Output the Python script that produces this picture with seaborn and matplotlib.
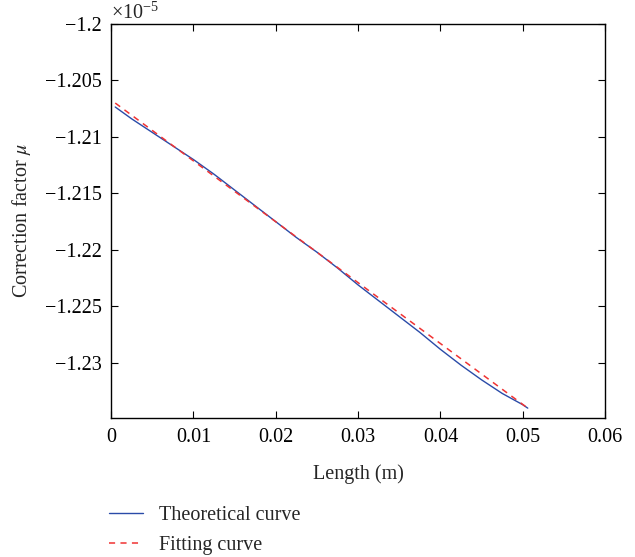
import pandas as pd
import matplotlib
matplotlib.use('Agg')
import matplotlib.pyplot as plt
import seaborn as sns
from matplotlib.ticker import FuncFormatter

# Theoretical curve, length in m, factor in units of 1e-5
length_theory = [0.0005, 0.0025, 0.005, 0.0075, 0.01, 0.0125, 0.015, 0.0175,
                 0.02, 0.0225, 0.025, 0.0275, 0.03, 0.0325, 0.035, 0.0375,
                 0.04, 0.0425, 0.045, 0.0475, 0.05, 0.0506]
mu_theory = [-1.20735, -1.2084, -1.2096, -1.2108, -1.2120, -1.2133, -1.2147,
             -1.2161, -1.2175, -1.2189, -1.2202, -1.2216, -1.2231, -1.2245,
             -1.2259, -1.2273, -1.2288, -1.2302, -1.2315, -1.2327, -1.2337,
             -1.2340]

# Fitting curve (straight line)
length_fit = [0.0005, 0.0506]
mu_fit = [-1.2070, -1.2340]

scale = 1e-5
theory = pd.DataFrame({'Length': length_theory, 'mu': [v * scale for v in mu_theory]})
fit = pd.DataFrame({'Length': length_fit, 'mu': [v * scale for v in mu_fit]})

sns.set_style('white')
plt.rcParams['font.family'] = ['Liberation Serif', 'DejaVu Serif']
plt.rcParams['mathtext.fontset'] = 'stix'
fs = 14.5

fig = plt.figure(figsize=(6.35, 5.57), dpi=100)
ax = fig.add_axes([0.175, 0.2496, 0.778, 0.7074])

sns.lineplot(data=theory, x='Length', y='mu', ax=ax, color='#2a4ba8',
             linewidth=1.0, label='Theoretical curve', legend=False)
sns.lineplot(data=fit, x='Length', y='mu', ax=ax, color='#f03333',
             linewidth=1.1, linestyle=(0, (4, 3.5)), label='Fitting curve', legend=False)

ax.set_xlim(0, 0.06)
ax.set_ylim(-1.23487e-5, -1.2e-5)
ax.set_xticks([0, 0.01, 0.02, 0.03, 0.04, 0.05, 0.06])
ax.set_yticks([v * scale for v in [-1.23, -1.225, -1.22, -1.215, -1.21, -1.205, -1.2]])
ax.xaxis.set_major_formatter(FuncFormatter(lambda v, p: f'{v:g}'))
ax.yaxis.set_major_formatter(FuncFormatter(lambda v, p: f'{v / scale:.4g}'.replace('-', '\u2212')))
ax.tick_params(direction='in', bottom=True, left=True, top=True, right=True,
               length=5, width=0.8, labelsize=fs, pad=7, colors='black')
for s in ax.spines.values():
    s.set_color('black')
    s.set_linewidth(1.0)

ax.set_xlabel('Length (m)', fontsize=fs, labelpad=13)
ax.set_ylabel('Correction factor $\\mu$', fontsize=fs, labelpad=8)
ax.text(0.0, 1.0, '\u00d710$^{\\mathregular{\u22125}}$', transform=ax.transAxes,
        ha='left', va='bottom', fontsize=fs)

fig.legend(loc='upper left', bbox_to_anchor=(0.172, 0.091), frameon=False,
           handlelength=1.7, handletextpad=0.75, labelspacing=0.5,
           borderpad=0, borderaxespad=0, fontsize=fs)

fig.savefig('out.png', dpi=100)
